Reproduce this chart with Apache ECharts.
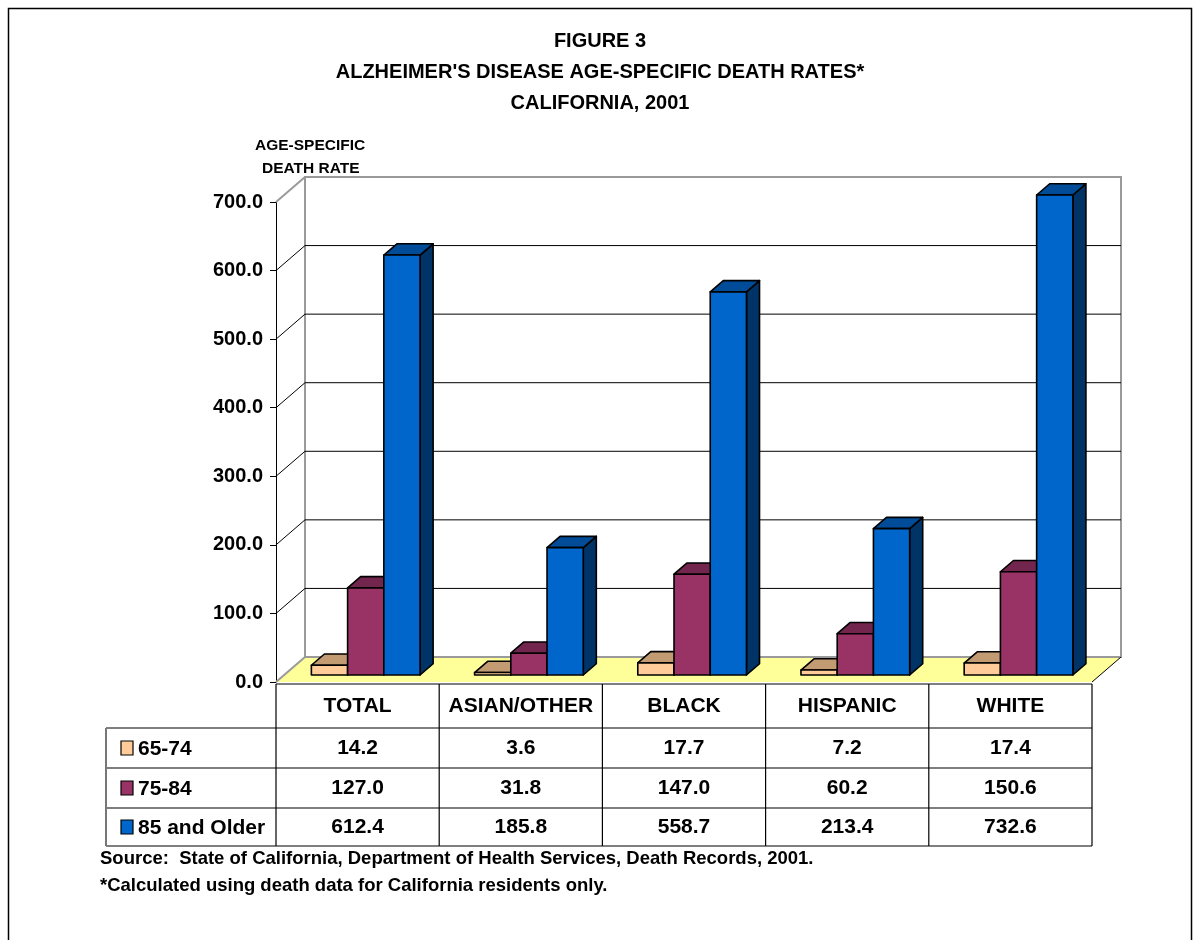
<!DOCTYPE html>
<html>
<head>
<meta charset="utf-8">
<script src="https://cdn.jsdelivr.net/npm/echarts@6/dist/echarts.min.js"></script>
<style>
  html, body { margin: 0; padding: 0; background: #fff; }
  #chart { width: 1200px; height: 940px; }
</style>
</head>
<body>
<div id="chart"></div>
<script>
// data
var categories = ['TOTAL', 'ASIAN/OTHER', 'BLACK', 'HISPANIC', 'WHITE'];
var ageGroups = ['65-74', '75-84', '85 and Older'];
var age65to74 = [14.2, 3.6, 17.7, 7.2, 17.4];
var age75to84 = [127.0, 31.8, 147.0, 60.2, 150.6];
var age85plus = [612.4, 185.8, 558.7, 213.4, 732.6];
var yTicks = [0, 100, 200, 300, 400, 500, 600, 700];

var seriesData = [age65to74, age75to84, age85plus];
var faceColors = [
    { front: '#FFCC99', top: '#C29B72', side: '#A3805C' },
    { front: '#993366', top: '#73264D', side: '#4D1A33' },
    { front: '#0066CC', top: '#004C99', side: '#003366' }
];

var FONT = '"Liberation Sans", Arial, sans-serif';
var DX = 29, DY = -25;          // depth of the 3D box
var F0 = 0.28, F1 = 0.73;       // bar depth range
var YMAX = 700;

function fmt(v) { return v.toFixed(1); }

function renderWalls(params, api) {
    var bw = api.size([1, 0])[0];
    var x0 = api.coord([0, 0])[0] - bw / 2;
    var x1 = api.coord([categories.length - 1, 0])[0] + bw / 2;
    var yb = api.coord([0, 0])[1];
    var yt = api.coord([0, YMAX])[1];
    var children = [];
    children.push({ type: 'polygon', shape: { points: [[x0, yb], [x1, yb], [x1 + DX, yb + DY], [x0 + DX, yb + DY]] },
        style: { fill: '#FFFF99', stroke: null } });
    children.push({ type: 'rect', shape: { x: x0 + DX, y: yt + DY, width: x1 - x0, height: yb - yt },
        style: { fill: '#fff', stroke: '#9a9a9a', lineWidth: 2 } });
    yTicks.forEach(function (t) {
        var y = api.coord([0, t])[1];
        var edge = (t === YMAX || t === 0);
        if (!edge) {
            children.push({ type: 'line', shape: { x1: x0 + DX, y1: y + DY, x2: x1 + DX, y2: y + DY },
                style: { stroke: '#000', lineWidth: 1 } });
        }
        children.push({ type: 'line', shape: { x1: x0, y1: y, x2: x0 + DX, y2: y + DY },
            style: { stroke: edge ? '#9a9a9a' : '#000', lineWidth: edge ? 2 : 1 } });
    });
    children.push({ type: 'line', shape: { x1: x1, y1: yb, x2: x1 + DX, y2: yb + DY },
        style: { stroke: '#000', lineWidth: 1 } });
    return { type: 'group', children: children };
}

function makeBarRenderer(s) {
    return function (params, api) {
        var i = api.value(0);
        var v = Math.min(api.value(1), YMAX);
        var bw = api.size([1, 0])[0];
        var cx = api.coord([i, 0])[0];
        var barW = bw * 0.222;
        var xl = cx - 1.5 * barW + s * barW + DX * F0;
        var xr = xl + barW;
        var yb = api.coord([i, 0])[1] + DY * F0;
        var yt = api.coord([i, v])[1] + DY * F0;
        var ddx = DX * (F1 - F0), ddy = DY * (F1 - F0);
        var col = faceColors[s];
        var st = { stroke: '#000', lineWidth: 1.6, lineJoin: 'round' };
        return { type: 'group', children: [
            { type: 'polygon', shape: { points: [[xr, yt], [xr + ddx, yt + ddy], [xr + ddx, yb + ddy], [xr, yb]] },
              style: Object.assign({ fill: col.side }, st) },
            { type: 'polygon', shape: { points: [[xl, yt], [xr, yt], [xr + ddx, yt + ddy], [xl + ddx, yt + ddy]] },
              style: Object.assign({ fill: col.top }, st) },
            { type: 'rect', shape: { x: xl, y: yt, width: barW, height: yb - yt },
              style: Object.assign({ fill: col.front }, st) }
        ] };
    };
}

var rowTops = [2, 46, 86, 126, 164]; // table row edges below the zero line

function renderTable(params, api) {
    var i = api.value(0);
    var bw = api.size([1, 0])[0];
    var cx = api.coord([i, 0])[0];
    var xl = cx - bw / 2, xr = cx + bw / 2;
    var y0 = api.coord([i, 0])[1];
    var textStyle = function (t, x, y, align) {
        return { type: 'text', style: { text: t, x: x, y: y, align: align || 'center', verticalAlign: 'middle',
            font: 'bold 21px ' + FONT, fill: '#000' } };
    };
    var children = [];
    children.push({ type: 'line', shape: { x1: xl, y1: y0 + rowTops[0], x2: xl, y2: y0 + rowTops[4] }, style: { stroke: '#000', lineWidth: 1.2 } });
    if (i === categories.length - 1) {
        children.push({ type: 'line', shape: { x1: xr, y1: y0 + rowTops[0], x2: xr, y2: y0 + rowTops[4] }, style: { stroke: '#000', lineWidth: 1.2 } });
    }
    rowTops.forEach(function (r) {
        children.push({ type: 'line', shape: { x1: xl, y1: y0 + r, x2: xr, y2: y0 + r }, style: { stroke: '#000', lineWidth: 1.2 } });
    });
    children.push(textStyle(categories[i], cx, y0 + (rowTops[0] + rowTops[1]) / 2));
    for (var s = 0; s < 3; s++) {
        children.push(textStyle(fmt(seriesData[s][i]), cx, y0 + (rowTops[s + 1] + rowTops[s + 2]) / 2));
    }
    if (i === 0) {
        var lx = xl - 170;
        for (var r = 1; r < rowTops.length; r++) {
            children.push({ type: 'line', shape: { x1: lx, y1: y0 + rowTops[r], x2: xl, y2: y0 + rowTops[r] }, style: { stroke: '#000', lineWidth: 1.2 } });
        }
        children.push({ type: 'line', shape: { x1: lx, y1: y0 + rowTops[1], x2: lx, y2: y0 + rowTops[4] }, style: { stroke: '#777', lineWidth: 2 } });
        for (var k = 0; k < 3; k++) {
            var ym = y0 + (rowTops[k + 1] + rowTops[k + 2]) / 2;
            children.push({ type: 'rect', shape: { x: lx + 15, y: ym - 7, width: 12, height: 14 },
                style: { fill: faceColors[k].front, stroke: '#000', lineWidth: 1.2 } });
            children.push(textStyle(ageGroups[k], lx + 32, ym + 1, 'left'));
        }
    }
    return { type: 'group', children: children };
}

var chart = echarts.init(document.getElementById('chart'));
var idx = categories.map(function (c, i) { return i; });

var series = [
    { type: 'custom', name: 'walls', renderItem: renderWalls, data: [[0, 0]], clip: false, z: 1, silent: true }
];
for (var s = 0; s < 3; s++) {
    series.push({
        type: 'custom', name: ageGroups[s], renderItem: makeBarRenderer(s), clip: false, z: 3 + s,
        data: idx.map(function (i) { return [i, seriesData[s][i]]; })
    });
}
series.push({ type: 'custom', name: 'table', renderItem: renderTable, clip: false, z: 10, silent: true,
    data: idx.map(function (i) { return [i, 0]; }) });

chart.setOption({
    animation: false,
    backgroundColor: '#fff',
    title: {
        text: 'FIGURE 3\nALZHEIMER\'S DISEASE AGE-SPECIFIC DEATH RATES*\nCALIFORNIA, 2001',
        left: 'center', top: 21,
        textStyle: { fontFamily: FONT, fontWeight: 'bold', fontSize: 20, lineHeight: 31, color: '#000' }
    },
    graphic: [
        { type: 'rect', shape: { x: 8.5, y: 8.5, width: 1183, height: 950 }, style: { fill: null, stroke: '#000', lineWidth: 1.5 }, z: 100 },
        { type: 'text', left: 255, top: 138, style: { text: 'AGE-SPECIFIC', font: 'bold 15.5px ' + FONT, fill: '#000' } },
        { type: 'text', left: 262, top: 161, style: { text: 'DEATH RATE', font: 'bold 15.5px ' + FONT, fill: '#000' } },
        { type: 'text', left: 100, top: 849, style: { text: 'Source:  State of California, Department of Health Services, Death Records, 2001.', font: 'bold 18.5px ' + FONT, fill: '#000' } },
        { type: 'text', left: 100, top: 876, style: { text: '*Calculated using death data for California residents only.', font: 'bold 18.5px ' + FONT, fill: '#000' } }
    ],
    grid: { left: 276, right: 108, top: 202, bottom: 258 },
    xAxis: {
        type: 'category', data: categories,
        axisLine: { show: false }, axisTick: { show: false }, axisLabel: { show: false }, splitLine: { show: false }
    },
    yAxis: {
        type: 'value', min: 0, max: YMAX, interval: 100,
        axisLine: { show: true, lineStyle: { color: '#000', width: 1 } },
        axisTick: { show: true, length: 6, lineStyle: { color: '#000' } },
        splitLine: { show: false },
        axisLabel: { formatter: function (v) { return fmt(v); }, fontFamily: FONT, fontWeight: 'bold', fontSize: 20, color: '#000', margin: 13 }
    },
    series: series
});
</script>
</body>
</html>
